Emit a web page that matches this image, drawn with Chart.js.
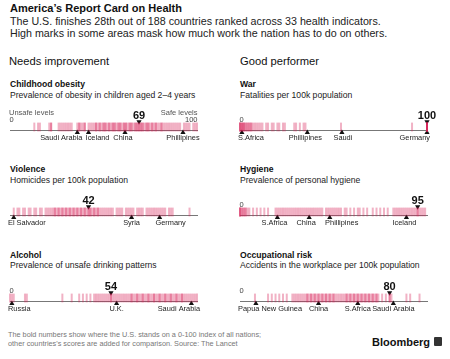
<!DOCTYPE html>
<html><head><meta charset="utf-8">
<script src="https://cdn.jsdelivr.net/npm/chart.js@4/dist/chart.umd.min.js"></script>
<style>
html,body{margin:0;padding:0;background:#fff;}
body{width:450px;height:359px;overflow:hidden;position:relative;font-family:"Liberation Sans",Arial,Helvetica,sans-serif;color:#111;}
.t{position:absolute;white-space:nowrap;}
canvas{position:absolute;}
</style></head><body>
<script>
// ---------- DATA (0-100 index scores) ----------
const obesityScores = [13,15,16,21,22,22,26,27,28,29,30,31,32,33,36,37,37,38,39,40,40,42,43,44,45,46,46,47,48,48,49,50,50,51,51,52,53,53,54,55,55,56,56,57,58,58,59,59,60,61,61,62,62,63,64,64,65,65,66,67,67,68,68,69,70,70,71,71,72,73,73,74,74,75,76,76,77,78,78,79,80,81,81,82,83,84,85,86,87,88,89,90,91,93,94,95,96,98,99,100];
const obesityCountries = ['Saudi Arabia','Iceland','China','Phillipines'];
const obesityCountryScores = [36,42,61.5,92.5];
const obesityUS = 69;

const warScores = [0,0,0,1,1,1,2,2,2,3,3,4,4,5,5,6,6,7,8,9,10,11,12,14,15,17,18,20,21,23,24,29,30,32,34,35,54,92,100,100,100,100,100,100];
const warCountries = ['S.Africa','Phillipines','Saudi','Germany'];
const warCountryScores = [1,36,54.5,100];
const warUS = 100;

const violenceScores = [2,4,5,7,8,10,11,13,14,16,17,19,20,21,22,23,24,24,25,26,26,27,28,28,29,30,30,31,32,32,33,34,34,35,36,36,37,38,38,39,40,40,41,42,43,43,44,45,45,46,47,47,48,49,50,51,52,53,54,55,57,58,59,60,62,63,64,65,66,68,69,70,71,73,74,75,76,77,78,79,80,81,82,83,85,86,87,96];
const violenceCountries = ['El Salvador','Syria','Germany'];
const violenceCountryScores = [2,65,80];
const violenceUS = 42;

const hygieneScores = [0,0,0,1,1,2,2,3,3,4,5,7,9,11,13,15,19,20,21,22,23,24,25,26,27,28,29,30,31,32,33,34,35,36,37,38,39,40,41,42,43,44,46,47,48,49,50,51,52,53,54,56,57,59,61,63,64,66,68,71,73,75,77,79,82,83,84,85,86,87,88,89,90,91,92,93,94,95,96,97,98,99];
const hygieneCountries = ['S.Africa','China','Phillipines','Iceland'];
const hygieneCountryScores = [20,37,48,89];
const hygieneUS = 95;

const alcoholScores = [0,1,2,8,9,28,33,37,39,41,43,45,46,47,48,49,50,51,52,53,54,55,56,57,58,59,60,61,62,63,64,65,65,66,67,68,68,69,70,71,71,72,73,74,74,75,76,77,77,78,79,80,80,81,82,83,83,84,85,86,86,87,88,89,89,90,91,92,92,93,94,95,96,97,98,99,100];
const alcoholCountries = ['Russia','U.K.','Saudi Arabia'];
const alcoholCountryScores = [1,57,97];
const alcoholUS = 54;

const occupationalScores = [8,15,17,19,21,23,25,28,29,30,31,32,33,34,35,36,36,37,38,38,39,40,40,41,42,42,43,44,44,45,46,46,47,48,48,49,50,50,51,52,53,54,55,56,57,57,58,59,59,60,61,61,62,63,63,64,65,65,66,67,67,68,69,69,70,71,71,72,73,73,74,76,78,80,81,89,91,96];
const occupationalCountries = ['Papua New Guinea','China','S.Africa','Saudi Arabia'];
const occupationalCountryScores = [8.5,42,63,82];
const occupationalUS = 80;

// ---------- LAYOUT / STYLE ----------
const ROW_CENTER = [127, 212, 297.5];
const PANEL = [{left:0, x0:10}, {left:225, x0:240}];
const STRIP_W = 187;
const HALF_H = 24;
const BAR_COLOR = 'rgba(214,28,86,0.34)';

// label nudges (style only), by strip
const nudges = {
  obesity:[-16,9,-2,0], war:[0,-2,1,0], violence:[0,0,11], hygiene:[-3,-3,12,-2], alcohol:[0,0,0], occupational:[0,0,0,0]
};

function addText(txt, x, cy, size, opts={}){
  const d=document.createElement('div');
  d.className='t';
  d.textContent=txt;
  const lh=Math.round(size*1.2);
  d.style.left=x+'px';
  d.style.top=(cy-lh/2)+'px';
  d.style.fontSize=size+'px';
  d.style.lineHeight=lh+'px';
  if(opts.bold) d.style.fontWeight='bold';
  if(opts.color) d.style.color=opts.color;
  document.body.appendChild(d);
  return d;
}

// header
addText("America\u2019s Report Card on Health", 10, 8, 11, {bold:true});
addText("The U.S. finishes 28th out of 188 countries ranked across 33 health indicators.", 10, 21.5, 10.7, {color:'#222'});
addText("High marks in some areas mask how much work the nation has to do on others.", 10, 33, 10.7, {color:'#222'});
addText("Needs improvement", 9, 61, 11.2, {color:'#111'});
addText("Good performer", 240, 61, 11.2, {color:'#111'});

const strips = [
  {key:'obesity', col:0,row:0,title:'Childhood obesity',sub:'Prevalence of obesity in children aged 2\u20134 years',scores:obesityScores,names:obesityCountries,vals:obesityCountryScores,us:obesityUS,zero:true,hundred:true,levels:true},
  {key:'war', col:1,row:0,title:'War',sub:'Fatalities per 100k population',scores:warScores,names:warCountries,vals:warCountryScores,us:warUS,zero:true},
  {key:'violence', col:0,row:1,title:'Violence',sub:'Homicides per 100k population',scores:violenceScores,names:violenceCountries,vals:violenceCountryScores,us:violenceUS,zero:false},
  {key:'hygiene', col:1,row:1,title:'Hygiene',sub:'Prevalence of personal hygiene',scores:hygieneScores,names:hygieneCountries,vals:hygieneCountryScores,us:hygieneUS,zero:true},
  {key:'alcohol', col:0,row:2,title:'Alcohol',sub:'Prevalence of unsafe drinking patterns',scores:alcoholScores,names:alcoholCountries,vals:alcoholCountryScores,us:alcoholUS,zero:true},
  {key:'occupational', col:1,row:2,title:'Occupational risk',sub:'Accidents in the workplace per 100k population',scores:occupationalScores,names:occupationalCountries,vals:occupationalCountryScores,us:occupationalUS,zero:true}
];

const Y = {bar:0, usTri:-7, mark:7.6, axis:4.5, usNum:-15, zero:-9.5, name:14.6, levels:-18.5};

const stripText = {
  id:'stripText',
  beforeDatasetsDraw(chart, args, o){
    const ctx=chart.ctx, xs=chart.scales.x, ys=chart.scales.y;
    const x0=xs.getPixelForValue(0), x1=xs.getPixelForValue(100);
    ctx.save();
    ctx.strokeStyle='#777'; ctx.lineWidth=1;
    const ay=Math.round(ys.getPixelForValue(Y.axis))+0.5;
    ctx.beginPath(); ctx.moveTo(x0,ay); ctx.lineTo(x1+1,ay); ctx.stroke();
    ctx.restore();
  },
  afterDatasetsDraw(chart, args, o){
    const s=o.strip; if(!s) return;
    const ctx=chart.ctx, xs=chart.scales.x, ys=chart.scales.y;
    const x0=xs.getPixelForValue(0), x1=xs.getPixelForValue(100);
    const F='"Liberation Sans",Arial,Helvetica,sans-serif';
    ctx.save();
    ctx.textBaseline='middle';
    ctx.font='7.4px '+F; ctx.fillStyle='#222';
    const nd=nudges[s.key]||[];
    s.names.forEach((n,i)=>{
      const cx=xs.getPixelForValue(s.vals[i])+(nd[i]||0);
      const w=ctx.measureText(n).width;
      let l=cx-w/2;
      if(l<x0-2) l=x0-2;
      if(l+w>x1+3) l=x1+3-w;
      ctx.textAlign='left';
      ctx.fillText(n,l,ys.getPixelForValue(Y.name));
    });
    ctx.font='bold 11px '+F; ctx.fillStyle='#111'; ctx.textAlign='center';
    ctx.fillText(String(s.us), xs.getPixelForValue(s.us), ys.getPixelForValue(Y.usNum));
    ctx.font='7.5px '+F; ctx.fillStyle='#444';
    if(s.zero){ ctx.textAlign='left'; ctx.fillText('0', x0-0.5, ys.getPixelForValue(Y.zero)); }
    if(s.hundred){ ctx.textAlign='right'; ctx.fillText('100', x1+0.5, ys.getPixelForValue(Y.zero)); }
    if(s.levels){
      ctx.fillStyle='#555';
      ctx.textAlign='left'; ctx.fillText('Unsafe levels', x0-1, ys.getPixelForValue(Y.levels));
      ctx.textAlign='right'; ctx.fillText('Safe levels', x1+0.5, ys.getPixelForValue(Y.levels));
    }
    ctx.restore();
  }
};

strips.forEach(s=>{
  const p=PANEL[s.col];
  const c=ROW_CENTER[s.row];
  addText(s.title, p.x0, c-43, 8.6, {bold:true});
  addText(s.sub, p.x0, c-32.5, 8.6, {color:'#222'});
  const cv=document.createElement('canvas');
  cv.width=225; cv.height=HALF_H*2;
  cv.style.left=p.left+'px'; cv.style.top=(c-HALF_H)+'px';
  document.body.appendChild(cv);
  const padL=p.x0-p.left, padR=225-padL-STRIP_W;
  new Chart(cv,{
    type:'scatter',
    data:{datasets:[
      {data:s.scores.map(v=>({x:v,y:Y.bar})), pointStyle:'line', rotation:90, radius:4.4, hoverRadius:4.4, borderWidth:2, borderColor:BAR_COLOR, backgroundColor:BAR_COLOR, clip:false},
      {data:[{x:s.us,y:Y.bar}], pointStyle:'line', rotation:90, radius:4.4, borderWidth:2, borderColor:BAR_COLOR, clip:false},
      {data:s.vals.map(v=>({x:v,y:Y.mark})), pointStyle:'triangle', radius:3, borderWidth:0, backgroundColor:'#111', clip:false},
      {data:[{x:s.us,y:Y.usTri}], pointStyle:'triangle', rotation:180, radius:3, borderWidth:0, backgroundColor:'#111', clip:false}
    ]},
    options:{
      responsive:false, animation:false, events:[],
      layout:{padding:{left:padL,right:padR,top:0,bottom:0}},
      plugins:{legend:{display:false}, tooltip:{enabled:false}, stripText:{strip:s}},
      scales:{
        x:{type:'linear',min:0,max:100,display:false},
        y:{type:'linear',min:-HALF_H,max:HALF_H,reverse:true,display:false}
      }
    },
    plugins:[stripText]
  });
});

// footer
addText("The bold numbers show where the U.S. stands on a 0-100 index of all nations;", 8, 334.5, 7.3, {color:'#777'});
addText("other countries's scores are added for comparison. Source: The Lancet", 8, 343, 7.3, {color:'#777'});
addText("Bloomberg", 372, 342, 11, {bold:true, color:'#111'});
const logo=document.createElement('div');
logo.style.cssText='position:absolute;left:434px;top:337px;width:8px;height:9px;background:#333;border-radius:1px;';
document.body.appendChild(logo);
</script>
</body></html>
